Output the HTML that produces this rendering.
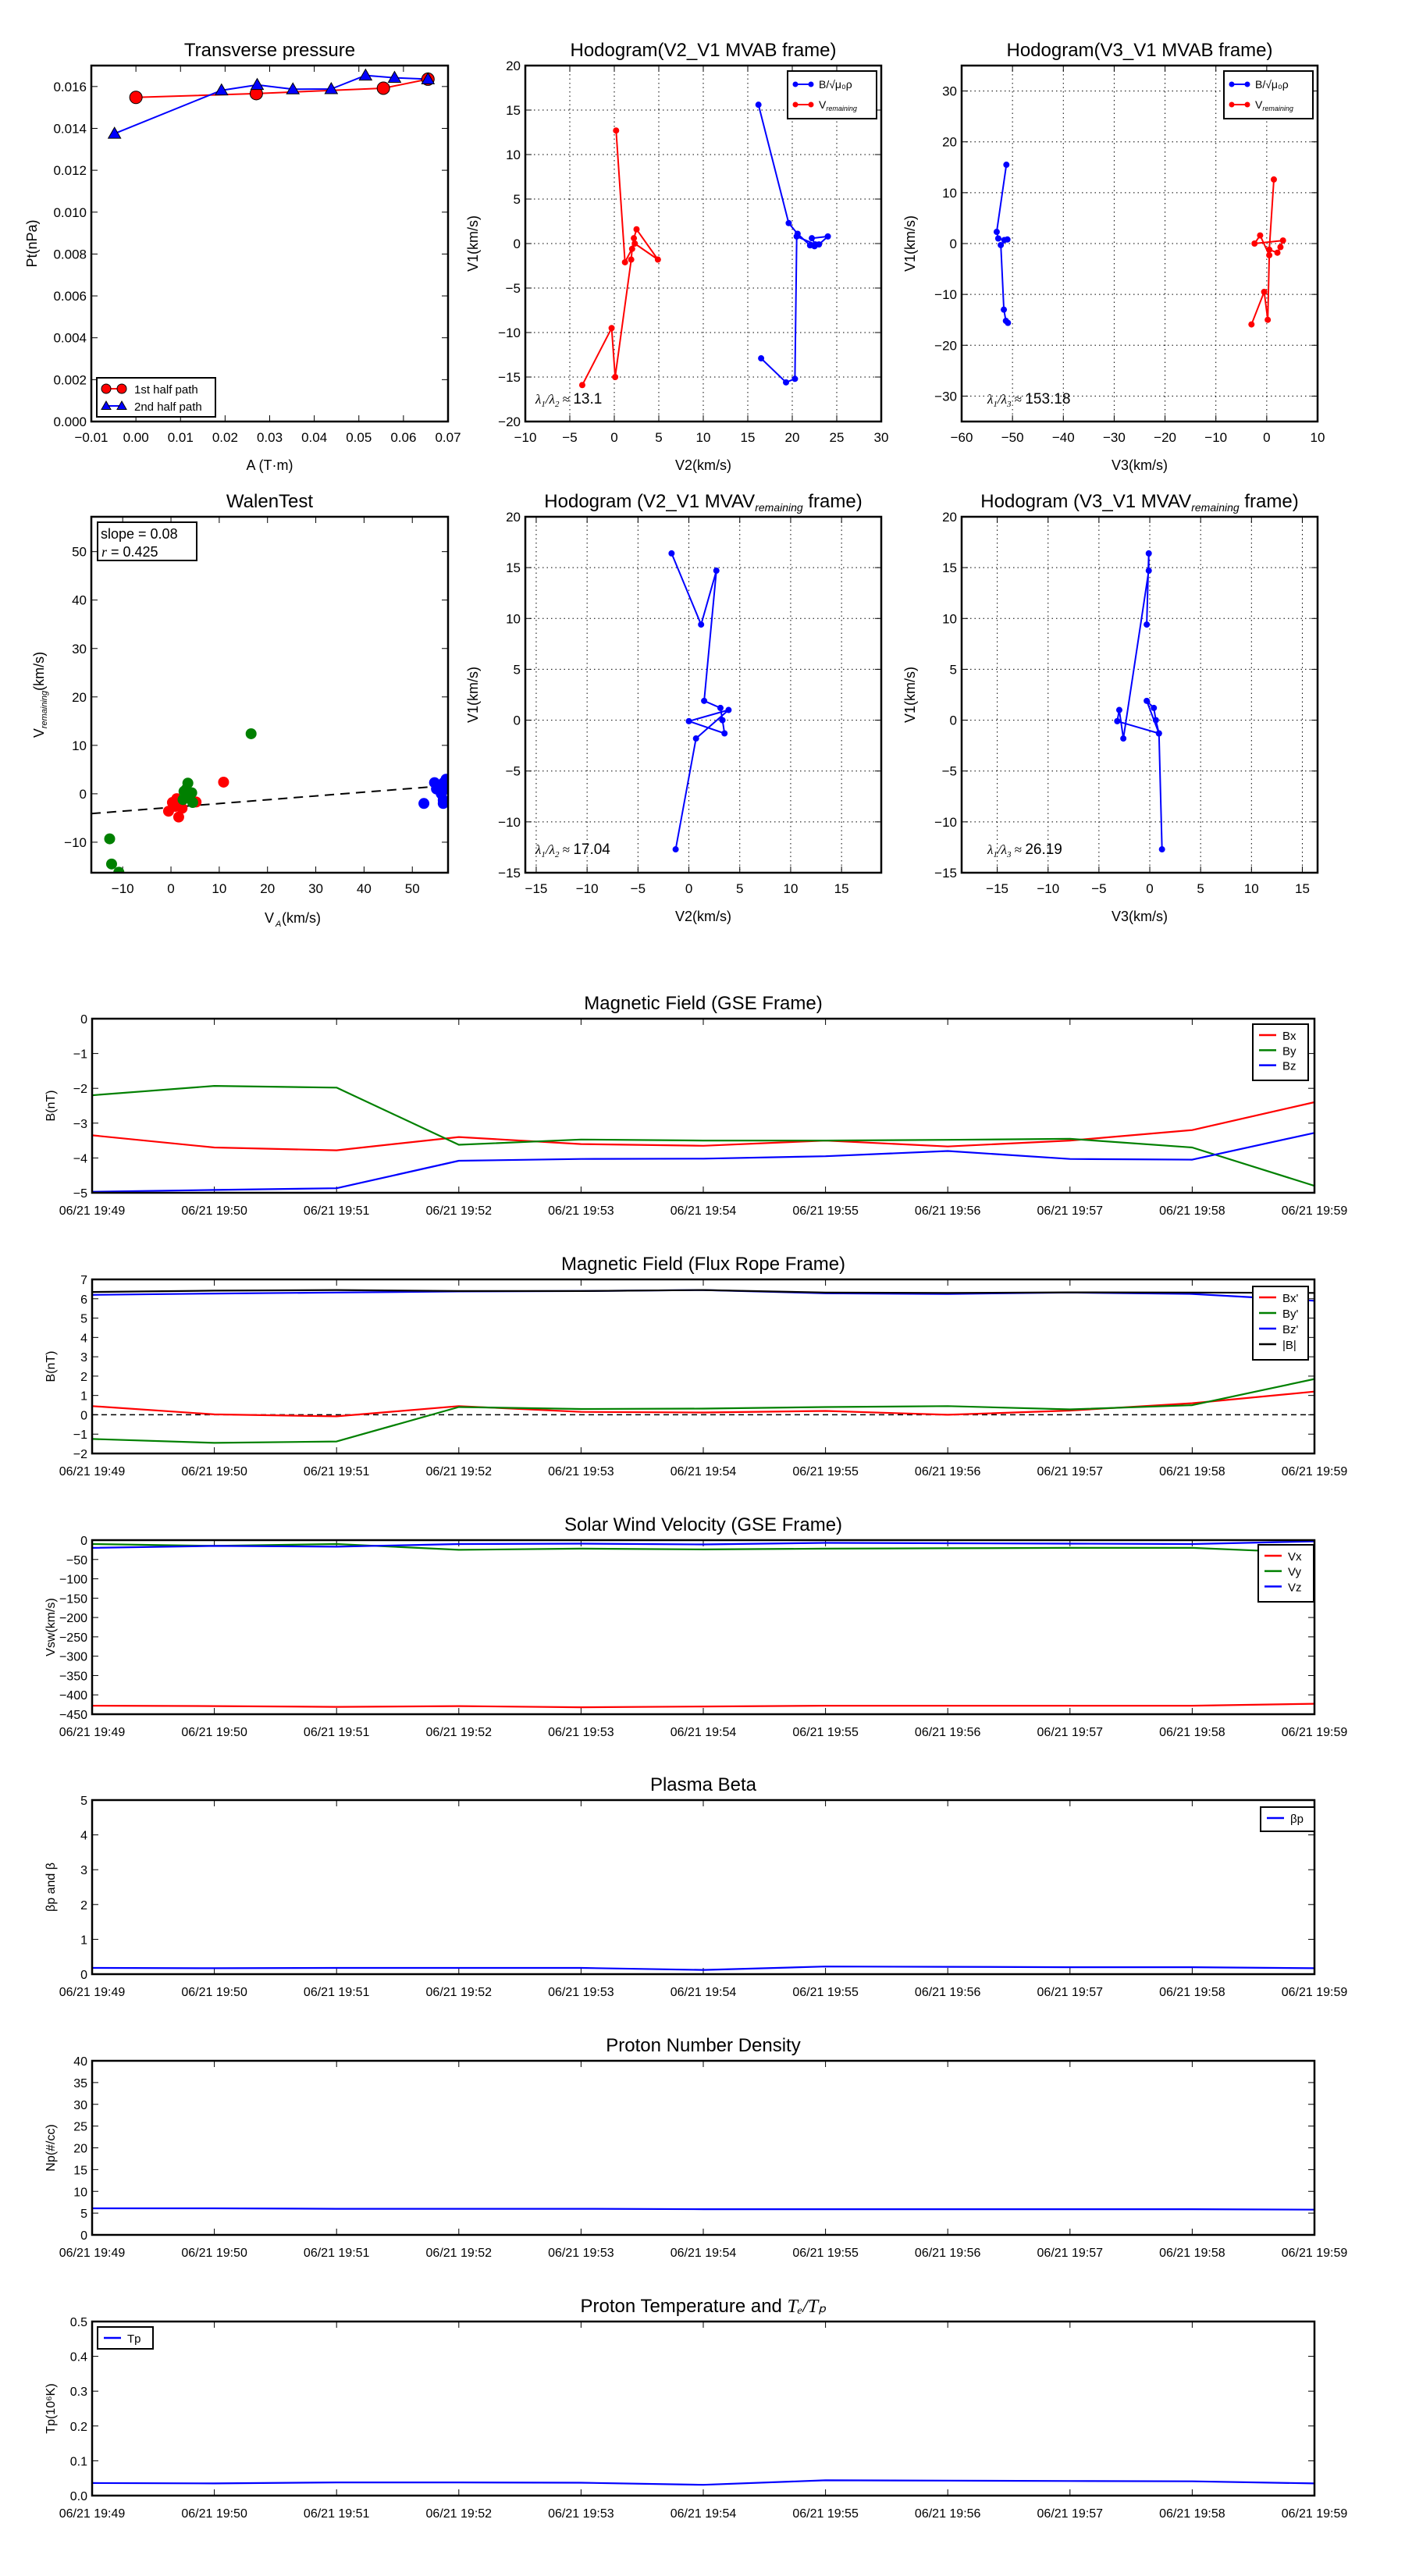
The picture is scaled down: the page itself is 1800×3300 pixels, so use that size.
<!DOCTYPE html>
<html><head><meta charset="utf-8">
<style>
html,body{margin:0;padding:0;background:#fff;}
svg{display:block;font-family:"Liberation Sans","DejaVu Sans",sans-serif;}
</style></head>
<body>
<svg id="s" xmlns="http://www.w3.org/2000/svg" width="1800" height="3300" viewBox="0 0 1800 3300"></svg>
<script>
const S=document.getElementById('s');const NS='http://www.w3.org/2000/svg';
function el(t,a,txt){const e=document.createElementNS(NS,t);for(const k in a)e.setAttribute(k,a[k]);if(txt!==undefined)e.textContent=txt;S.appendChild(e);return e;}
function fmt(v,d){let s=v.toFixed(d);if(v<0)s='\u2212'+s.slice(1);return s;}
function axes(o){
 const {x0,x1,y0,y1,xr,yr}=o;
 const X=v=>x0+(v-xr[0])/(xr[1]-xr[0])*(x1-x0);
 const Y=v=>y1-(v-yr[0])/(yr[1]-yr[0])*(y1-y0);
 const fs=o.fs||17;
 if(o.grid){o.xt.forEach(v=>{const x=X(v);el('line',{x1:x,x2:x,y1:y0,y2:y1,stroke:'#000','stroke-width':1,'stroke-dasharray':'1.5,4'});});
  o.yt.forEach(v=>{const y=Y(v);el('line',{x1:x0,x2:x1,y1:y,y2:y,stroke:'#000','stroke-width':1,'stroke-dasharray':'1.5,4'});});}
 o.xt.forEach((v,i)=>{const x=X(v);el('line',{x1:x,x2:x,y1:y1,y2:y1-8,stroke:'#000','stroke-width':1});el('line',{x1:x,x2:x,y1:y0,y2:y0+8,stroke:'#000','stroke-width':1});
  el('text',{x:x,y:y1+(o.xlo||26),'font-size':fs,'text-anchor':'middle'},o.xl?o.xl[i]:fmt(v,o.xd||0));});
 o.yt.forEach((v,i)=>{const y=Y(v);el('line',{x1:x0,x2:x0+8,y1:y,y2:y,stroke:'#000','stroke-width':1});el('line',{x1:x1,x2:x1-8,y1:y,y2:y,stroke:'#000','stroke-width':1});
  el('text',{x:x0-6,y:y+6,'font-size':fs,'text-anchor':'end'},fmt(v,o.yd||0));});
 if(o.title)el('text',{x:(x0+x1)/2,y:y0-12,'font-size':o.tfs||24,'text-anchor':'middle'},o.title);
 if(o.xlab)el('text',{x:(x0+x1)/2,y:y1+(o.xlabo||62),'font-size':o.lfs||18,'text-anchor':'middle'},o.xlab);
 if(o.ylab){const lx=o.ylx;const ly=(y0+y1)/2;el('text',{x:lx,y:ly,'font-size':o.lfs||18,'text-anchor':'middle',transform:`rotate(-90 ${lx} ${ly})`},o.ylab);}
 return {X,Y,o};
}
function frame(o){el('rect',{x:o.x0,y:o.y0,width:o.x1-o.x0,height:o.y1-o.y0,fill:'none',stroke:'#000','stroke-width':2.5});}
function clip(id,o){const c=el('clipPath',{id:id});const r=document.createElementNS(NS,'rect');r.setAttribute('x',o.x0);r.setAttribute('y',o.y0);r.setAttribute('width',o.x1-o.x0);r.setAttribute('height',o.y1-o.y0);c.appendChild(r);}
function line(A,pts,col,w,extra){const d=pts.map(p=>A.X(p[0]).toFixed(1)+','+A.Y(p[1]).toFixed(1)).join(' ');const a={points:d,fill:'none',stroke:col,'stroke-width':w||2,'stroke-linejoin':'round'};Object.assign(a,extra||{});el('polyline',a);}
function dots(A,pts,col,r,clipid){pts.forEach(p=>{const a={cx:A.X(p[0]),cy:A.Y(p[1]),r:r,fill:col};if(clipid)a['clip-path']=`url(#${clipid})`;el('circle',a);});}

// ---------- Transverse pressure ----------
let o={x0:117,x1:574,y0:84,y1:540,xr:[-0.01,0.07],yr:[0,0.017],xt:[-0.01,0,0.01,0.02,0.03,0.04,0.05,0.06,0.07],yt:[0,0.002,0.004,0.006,0.008,0.010,0.012,0.014,0.016],xd:2,yd:3,title:'Transverse pressure',xlab:'A (T\u00b7m)',ylab:'Pt(nPa)',ylx:47,fs:17};
let A=axes(o);
const red=[[0,0.01548],[0.027,0.01566],[0.0555,0.01592],[0.0655,0.01635]];
const blu=[[-0.0048,0.01375],[0.0192,0.01582],[0.0272,0.01608],[0.0352,0.01587],[0.0438,0.01588],[0.0515,0.01653],[0.058,0.01642],[0.0655,0.01635]];
line(A,red,'red',2);line(A,blu,'blue',2);
red.forEach(p=>el('circle',{cx:A.X(p[0]),cy:A.Y(p[1]),r:8,fill:'red',stroke:'#000','stroke-width':1}));
function tri(x,y,s,c){el('polygon',{points:`${x},${y-s} ${x-s},${y+s*0.75} ${x+s},${y+s*0.75}`,fill:c,stroke:'#000','stroke-width':1});}
blu.forEach(p=>tri(A.X(p[0]),A.Y(p[1]),8,'blue'));
frame(o);
el('rect',{x:124,y:484,width:152,height:50,fill:'#fff',stroke:'#000','stroke-width':2});
el('line',{x1:136,x2:156,y1:498,y2:498,stroke:'red','stroke-width':2});el('circle',{cx:136,cy:498,r:6,fill:'red',stroke:'#000'});el('circle',{cx:156,cy:498,r:6,fill:'red',stroke:'#000'});
el('text',{x:172,y:504,'font-size':15},'1st half path');
el('line',{x1:136,x2:156,y1:520,y2:520,stroke:'blue','stroke-width':2});tri(136,520,6,'blue');tri(156,520,6,'blue');
el('text',{x:172,y:526,'font-size':15},'2nd half path');

function hlegend(x,y,w,h){el('rect',{x:x,y:y,width:w,height:h,fill:'#fff',stroke:'#000','stroke-width':2});
 el('line',{x1:x+9,x2:x+31,y1:y+17,y2:y+17,stroke:'blue','stroke-width':2});el('circle',{cx:x+10,cy:y+17,r:3.5,fill:'blue'});el('circle',{cx:x+30,cy:y+17,r:3.5,fill:'blue'});
 el('text',{x:x+40,y:y+22,'font-size':14},'B/\u221a\u03bc\u2080\u03c1');
 el('line',{x1:x+9,x2:x+31,y1:y+43,y2:y+43,stroke:'red','stroke-width':2});el('circle',{cx:x+10,cy:y+43,r:3.5,fill:'red'});el('circle',{cx:x+30,cy:y+43,r:3.5,fill:'red'});
 const t=el('text',{x:x+40,y:y+48,'font-size':14},'V');const ts=document.createElementNS(NS,'tspan');ts.setAttribute('font-size','9');ts.setAttribute('font-style','italic');ts.setAttribute('dy','3');ts.textContent='remaining';t.appendChild(ts);}
function lam(x,y,a,b,v){const t=el('text',{x:x,y:y,'font-size':17,'font-family':'"Liberation Serif",serif','font-style':'italic'},'\u03bb');
 const add=(s,dy,fs,st,ff)=>{const ts=document.createElementNS(NS,'tspan');ts.setAttribute('dy',dy);if(fs)ts.setAttribute('font-size',fs);if(st)ts.setAttribute('font-style',st);if(ff)ts.setAttribute('font-family',ff);ts.textContent=s;t.appendChild(ts);};
 add(a,4,11);add('/\u03bb',-4);add(b,4,11);add(' \u2248 ',-4,17,'normal');add(v,0,19,'normal','"Liberation Sans",sans-serif');}

// ---------- Hodogram V2_V1 MVAB ----------
o={x0:673,x1:1129,y0:84,y1:540,xr:[-10,30],yr:[-20,20],xt:[-10,-5,0,5,10,15,20,25,30],yt:[-20,-15,-10,-5,0,5,10,15,20],grid:true,title:'Hodogram(V2_V1 MVAB frame)',xlab:'V2(km/s)',ylab:'V1(km/s)',ylx:612};
A=axes(o);
let bp=[[16.2,15.6],[19.6,2.3],[20.6,1.1],[22,-0.2],[22.5,-0.3],[23,-0.1],[24,0.8],[22.2,0.6],[22.6,-0.1],[20.5,0.8],[20.3,-15.2],[19.3,-15.6],[16.5,-12.9]];
let rp=[[-3.6,-15.9],[-0.3,-9.5],[0.1,-15.0],[1.9,-1.8],[2.0,-0.6],[2.2,0.6],[2.5,1.6],[4.9,-1.8],[2.3,0],[1.2,-2.1],[0.2,12.7]];
line(A,bp,'blue',2);dots(A,bp,'blue',4);line(A,rp,'red',2);dots(A,rp,'red',4);
frame(o);hlegend(1009,91,114,61);lam(686,517,'1','2','13.1');

// ---------- Hodogram V3_V1 MVAB ----------
o={x0:1232,x1:1688,y0:84,y1:540,xr:[-60,10],yr:[-35,35],xt:[-60,-50,-40,-30,-20,-10,0,10],yt:[-30,-20,-10,0,10,20,30],grid:true,title:'Hodogram(V3_V1 MVAB frame)',xlab:'V3(km/s)',ylab:'V1(km/s)',ylx:1172};
A=axes(o);
bp=[[-51.2,15.5],[-53.1,2.3],[-52.8,1.0],[-51.6,0.7],[-51.0,0.8],[-52.3,-0.3],[-51.7,-13],[-51.3,-15.2],[-50.9,-15.6]];
rp=[[-3,-15.9],[-0.5,-9.5],[0.2,-15],[0.5,-2.3],[-1.3,1.6],[-2.4,0],[3.2,0.6],[2.7,-0.7],[2.1,-1.8],[0.5,-1.2],[1.4,12.6]];
line(A,bp,'blue',2);dots(A,bp,'blue',4);line(A,rp,'red',2);dots(A,rp,'red',4);
frame(o);hlegend(1568,91,114,61);lam(1265,517,'1','3','153.18');

// ---------- WalenTest ----------
o={x0:117,x1:574,y0:662,y1:1118,xr:[-16.5,57.4],yr:[-16.3,57.2],xt:[-10,0,10,20,30,40,50],yt:[-10,0,10,20,30,40,50],title:'WalenTest'};
A=axes(o);
el('text',{x:345,y:1182,'font-size':18,'text-anchor':'middle'},'V');el('text',{x:353,y:1187,'font-size':11,'font-style':'italic'},'A');el('text',{x:361,y:1182,'font-size':18},'(km/s)');
{const t=el('text',{x:0,y:0,'font-size':18,transform:'translate(56 890) rotate(-90)','text-anchor':'middle'},'V');const ts=document.createElementNS(NS,'tspan');ts.setAttribute('font-size','11');ts.setAttribute('font-style','italic');ts.setAttribute('dy','4');ts.textContent='remaining';t.appendChild(ts);const t2=document.createElementNS(NS,'tspan');t2.setAttribute('dy','-4');t2.textContent='(km/s)';t.appendChild(t2);}
clip('cw',o);
line(A,[[-16.5,-4.1],[57.4,1.7]],'#000',2,{'stroke-dasharray':'12,8'});
dots(A,[[-0.5,-3.6],[0.3,-1.8],[1.2,-1.0],[1.6,-4.8],[2.3,-3.0],[5.2,-1.7],[10.9,2.4],[0.9,-2.6]],'red',7,'cw');
dots(A,[[-12.7,-9.3],[-12.3,-14.5],[-10.8,-16.2],[16.6,12.4],[3.5,2.2],[3.2,1.0],[2.7,0.5],[2.8,-0.7],[4.3,0.2],[2.5,-1.2],[4.5,-1.8]],'green',7,'cw');
dots(A,[[52.4,-2],[54.6,2.3],[55,1],[56,0],[56.4,-1.3],[56.4,-2],[57,3],[56.5,2.3],[56.8,1]],'blue',7,'cw');
frame(o);
el('rect',{x:125,y:669,width:127,height:49,fill:'#fff',stroke:'#000','stroke-width':2});
el('text',{x:129,y:690,'font-size':18},'slope = 0.08');
el('text',{x:130,y:713,'font-size':18,'font-style':'italic','font-family':'"Liberation Serif",serif'},'r');
el('text',{x:142,y:713,'font-size':18},'= 0.425');

function mvav(x0,x1,xr,xt,title,xlab,ylx,pts,lx,b,val){
 const oo={x0:x0,x1:x1,y0:662,y1:1118,xr:xr,yr:[-15,20],xt:xt,yt:[-15,-10,-5,0,5,10,15,20],grid:true,xlab:xlab,ylab:'V1(km/s)',ylx:ylx};
 const AA=axes(oo);
 const t=el('text',{x:(x0+x1)/2,y:650,'font-size':24,'text-anchor':'middle'},title+' MVAV');const ts=document.createElementNS(NS,'tspan');ts.setAttribute('font-size','14');ts.setAttribute('font-style','italic');ts.setAttribute('dy','5');ts.textContent='remaining';t.appendChild(ts);const t2=document.createElementNS(NS,'tspan');t2.setAttribute('dy','-5');t2.textContent=' frame)';t.appendChild(t2);
 line(AA,pts,'blue',2);dots(AA,pts,'blue',4);frame(oo);lam(lx,1094,'1',b,val);}
mvav(673,1129,[-16.07,18.9],[-15,-10,-5,0,5,10,15],'Hodogram (V2_V1','V2(km/s)',612,
 [[-1.7,16.4],[1.2,9.4],[2.7,14.7],[1.5,1.9],[3.1,1.2],[3.3,0],[3.5,-1.3],[0,-0.1],[3.9,1.0],[0.7,-1.8],[-1.3,-12.7]],686,'2','17.04');
mvav(1232,1688,[-18.5,16.5],[-15,-10,-5,0,5,10,15],'Hodogram (V3_V1','V3(km/s)',1172,
 [[-0.3,9.4],[-0.1,16.4],[-0.1,14.7],[-2.6,-1.8],[-3.0,1.0],[-3.2,-0.1],[0.9,-1.3],[0.6,0],[0.4,1.2],[-0.3,1.9],[0.9,-1.3],[1.2,-12.7]],1265,'3','26.19');

// ---------- Time series ----------
const TL=['06/21 19:49','06/21 19:50','06/21 19:51','06/21 19:52','06/21 19:53','06/21 19:54','06/21 19:55','06/21 19:56','06/21 19:57','06/21 19:58','06/21 19:59'];
const XT=[0,1,2,3,4,5,6,7,8,9,10];
function ts(i,yr,yt,yd,title,ylab,series,leg,extra){
 const y0=Math.round(1305+i*333.8),y1=y0+223;
 const oo={x0:118,x1:1684,y0:y0,y1:y1,xr:[0,10],yr:yr,xt:XT,xl:TL,yt:yt,yd:yd,xlo:28,fs:16,ylab:ylab,ylx:70,lfs:16};
 const AA=axes(oo);
 if(typeof title==='string')el('text',{x:901,y:y0-12,'font-size':24,'text-anchor':'middle'},title);else title(y0);
 const cid='c'+i;clip(cid,oo);
 if(extra)extra(AA,cid);
 series.forEach(s=>line(AA,s[1].map((v,k)=>[k,v]),s[0],2.2,{'clip-path':`url(#${cid})`}));
 frame(oo);
 if(leg){const [lx,ly,lw,lh,items]=leg;el('rect',{x:lx,y:ly,width:lw,height:lh,fill:'#fff',stroke:'#000','stroke-width':2});
  items.forEach((it,k)=>{const yy=ly+14+k*(lh-14)/items.length;el('line',{x1:lx+8,x2:lx+30,y1:yy,y2:yy,stroke:it[0],'stroke-width':2.5});el('text',{x:lx+38,y:yy+6,'font-size':15},it[1]);});}
}
ts(0,[-5,0],[-5,-4,-3,-2,-1,0],0,'Magnetic Field (GSE Frame)','B(nT)',[
 ['red',[-3.35,-3.7,-3.78,-3.4,-3.6,-3.65,-3.5,-3.67,-3.5,-3.2,-2.4]],
 ['green',[-2.2,-1.93,-1.98,-3.62,-3.47,-3.5,-3.5,-3.48,-3.45,-3.7,-4.8]],
 ['blue',[-4.97,-4.92,-4.87,-4.08,-4.03,-4.02,-3.95,-3.8,-4.03,-4.05,-3.28]]],
 [1605,1312,71,72,[['red','Bx'],['green','By'],['blue','Bz']]]);
ts(1,[-2,7],[-2,-1,0,1,2,3,4,5,6,7],0,'Magnetic Field (Flux Rope Frame)','B(nT)',[
 ['red',[0.45,0.02,-0.08,0.45,0.15,0.12,0.2,0.0,0.22,0.6,1.2]],
 ['green',[-1.25,-1.45,-1.38,0.4,0.3,0.32,0.4,0.45,0.28,0.5,1.85]],
 ['blue',[6.2,6.27,6.32,6.38,6.4,6.45,6.28,6.25,6.32,6.25,5.9]],
 ['black',[6.35,6.42,6.45,6.4,6.4,6.45,6.32,6.3,6.33,6.32,6.3]]],
 [1605,1648,71,94,[['red',"Bx'"],['green',"By'"],['blue',"Bz'"],['black','|B|']]],
 (AA)=>line(AA,[[0,0],[10,0]],'#000',1.5,{'stroke-dasharray':'7,5'}));
ts(2,[-450,0],[-450,-400,-350,-300,-250,-200,-150,-100,-50,0],0,'Solar Wind Velocity (GSE Frame)','Vsw(km/s)',[
 ['red',[-428,-429,-431,-429,-432,-430,-428,-428,-428,-428,-423]],
 ['green',[-10,-15,-10,-25,-22,-24,-22,-21,-20,-20,-33]],
 ['blue',[-20,-15,-17,-10,-9,-11,-7,-8,-9,-10,-3]]],
 [1612,1979,71,73,[['red','Vx'],['green','Vy'],['blue','Vz']]]);
ts(3,[0,5],[0,1,2,3,4,5],0,'Plasma Beta','\u03b2p and \u03b2',[
 ['blue',[0.18,0.17,0.18,0.18,0.18,0.12,0.22,0.21,0.2,0.2,0.17]]],
 [1615,2315,69,31,[['blue','\u03b2p']]]);
ts(4,[0,40],[0,5,10,15,20,25,30,35,40],0,'Proton Number Density','Np(#/cc)',[
 ['blue',[6.1,6.1,6.0,6.0,6.0,5.9,5.9,5.9,5.9,5.9,5.8]]],null);
ts(5,[0,0.5],[0,0.1,0.2,0.3,0.4,0.5],1,(y0)=>{const t=el('text',{x:901,y:y0-12,'font-size':24,'text-anchor':'middle'},'Proton Temperature and ');const a=document.createElementNS(NS,'tspan');a.setAttribute('font-style','italic');a.setAttribute('font-family','"Liberation Serif",serif');a.textContent='T\u2091/T\u209a';t.appendChild(a);},'Tp(10\u2076K)',[
 ['blue',[0.036,0.035,0.038,0.038,0.037,0.031,0.044,0.043,0.042,0.041,0.035]]],
 [125,2981,71,28,[['blue','Tp']]]);
</script>
</body></html>
